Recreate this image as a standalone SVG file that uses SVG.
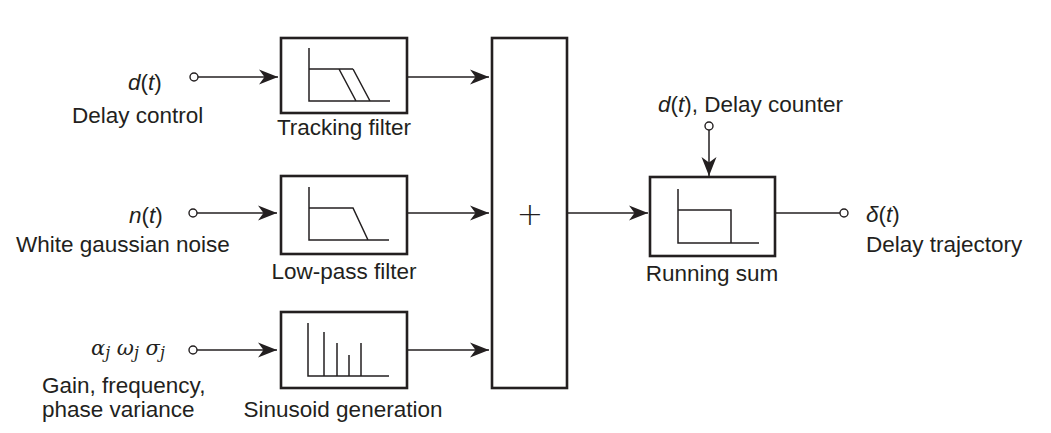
<svg xmlns="http://www.w3.org/2000/svg" width="1051" height="433" viewBox="0 0 1051 433">
<style>
text{font-family:"Liberation Sans",Arial,sans-serif;font-size:22.5px;fill:#231f20}
.i{font-style:italic}
.box{fill:none;stroke:#231f20;stroke-width:2.6}
.g{fill:none;stroke:#231f20;stroke-width:1.5}
.c{fill:none;stroke:#231f20;stroke-width:1.5}
.term{fill:#fff;stroke:#231f20;stroke-width:1.4}
</style>
<defs>
<marker id="ah" markerUnits="userSpaceOnUse" markerWidth="22" markerHeight="18" refX="20" refY="9" orient="auto" viewBox="0 0 22 18">
<path d="M20,9 L1,1.5 L6.5,9 L1,16.5 Z" fill="#231f20"/>
</marker>
</defs>
<rect width="1051" height="433" fill="#fff"/>

<g id="connectors">
<line class="c" x1="198" y1="77" x2="278" y2="77" marker-end="url(#ah)"/>
<line class="c" x1="197" y1="213" x2="277" y2="213" marker-end="url(#ah)"/>
<line class="c" x1="197" y1="350" x2="277" y2="350" marker-end="url(#ah)"/>
<line class="c" x1="407" y1="77" x2="489" y2="77" marker-end="url(#ah)"/>
<line class="c" x1="407" y1="213" x2="489" y2="213" marker-end="url(#ah)"/>
<line class="c" x1="407" y1="350" x2="489" y2="350" marker-end="url(#ah)"/>
<line class="c" x1="567" y1="213" x2="648" y2="213" marker-end="url(#ah)"/>
<line class="c" x1="709" y1="130" x2="709" y2="176" marker-end="url(#ah)"/>
<line class="c" x1="775" y1="213" x2="840" y2="213"/>
</g>

<g id="in-delay">
<circle class="term" cx="194" cy="77" r="4"/>
<text x="128" y="90"><tspan class="i">d</tspan>(<tspan class="i">t</tspan>)</text>
<text x="72" y="123">Delay control</text>
</g>
<g id="in-noise">
<circle class="term" cx="193" cy="213" r="4"/>
<text x="129" y="223"><tspan class="i">n</tspan>(<tspan class="i">t</tspan>)</text>
<text x="16" y="252">White gaussian noise</text>
</g>
<g id="in-sinusoid">
<circle class="term" cx="193" cy="350" r="4"/>
<text x="91" y="355" class="i" style="font-family:'DejaVu Serif','Liberation Serif',serif;font-size:21px">α<tspan font-size="16" dy="3">j</tspan><tspan dy="-3"> ω</tspan><tspan font-size="16" dy="3">j</tspan><tspan dy="-3"> σ</tspan><tspan font-size="16" dy="3">j</tspan></text>
<text x="42" y="393">Gain, frequency,</text>
<text x="42" y="417">phase variance</text>
</g>

<g id="tracking-filter">
<rect class="box" x="281" y="38" width="126" height="75"/>
<path class="g" d="M309,48 V101 H390 M309,69 H353 M339,69 L356,101 M353,69 L370,101"/>
<text x="344" y="135" text-anchor="middle">Tracking filter</text>
</g>
<g id="lowpass-filter">
<rect class="box" x="281" y="176" width="126" height="78"/>
<path class="g" d="M309,187 V240 H389 M309,208 H353 L368,240"/>
<text x="344" y="279" text-anchor="middle">Low-pass filter</text>
</g>
<g id="sinusoid-generation">
<rect class="box" x="281" y="312" width="126" height="76"/>
<path class="g" d="M308,323 V376 H389 M324,332 V376 M337,343 V376 M349,355 V376 M361,343 V376"/>
<text x="343" y="417" text-anchor="middle">Sinusoid generation</text>
</g>

<g id="summer">
<rect class="box" x="492" y="38" width="75" height="350"/>
<text x="530" y="225" text-anchor="middle" style="font-family:'DejaVu Sans',sans-serif;font-size:32px;font-weight:200">+</text>
</g>

<g id="delay-counter">
<circle class="term" cx="709" cy="126" r="4"/>
<text x="658" y="112"><tspan class="i">d</tspan>(<tspan class="i">t</tspan>), Delay counter</text>
</g>

<g id="running-sum">
<rect class="box" x="650" y="177" width="125" height="79"/>
<path class="g" d="M678,189 V243 H759 M678,210 H731 V243"/>
<text x="712" y="281" text-anchor="middle">Running sum</text>
</g>

<g id="out-trajectory">
<circle class="term" cx="844" cy="213" r="4"/>
<text x="866" y="222"><tspan class="i">δ</tspan>(<tspan class="i">t</tspan>)</text>
<text x="866" y="252">Delay trajectory</text>
</g>
</svg>
